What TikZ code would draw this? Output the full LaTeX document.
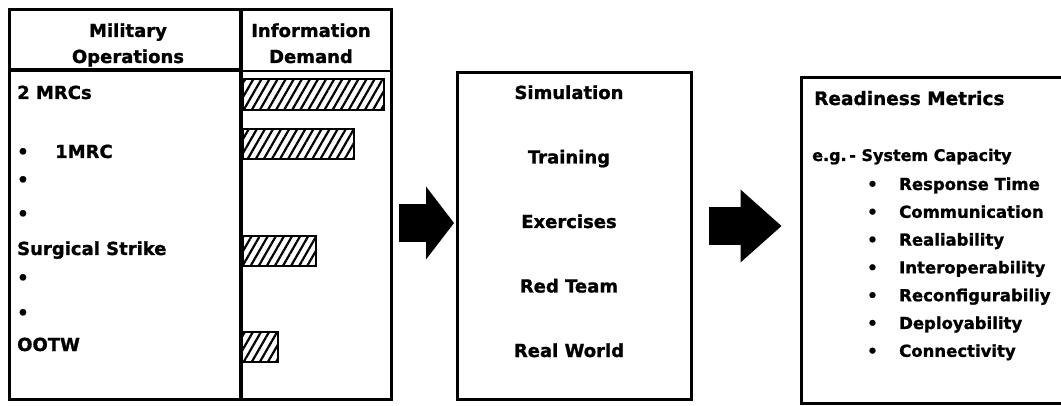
\documentclass[tikz,border=0pt]{standalone}
\usepackage{fontspec}
\setmainfont{DejaVu Sans}[BoldFeatures={FakeBold=1.2}]
\usetikzlibrary{arrows.meta,patterns.meta}

\begin{document}
\begin{tikzpicture}[x=1pt, y=-1pt,
    panel/.style={draw, line width=3pt, inner sep=0pt},
    head/.style={font=\fontsize{18}{26}\selectfont\bfseries, align=center, anchor=base, inner sep=0pt},
    item/.style={font=\fontsize{18}{22}\selectfont\bfseries, anchor=base west, inner sep=0pt},
    metric/.style={font=\fontsize{16.5}{20}\selectfont\bfseries, anchor=base west, inner sep=0pt},
    bar/.style={draw, line width=2.5pt, pattern={Lines[angle=60,distance=7pt,line width=2.2pt]}},
    bigarrow/.style={line width=38pt, -{Triangle[length=#1, width=73pt, line width=0pt]}}
]

\useasboundingbox (0,0) rectangle (1061,406);
\clip (0,0) rectangle (1061,406);

% Three panels
\node[panel, minimum width=382pt, minimum height=389pt] (ops) at (200,204.5) {};
\node[panel, minimum width=234pt, minimum height=326pt] (sim) at (574,236) {};
\node[panel, minimum width=274pt, minimum height=325pt] (ready) at (938,240.5) {};

% Table rulings
\draw[line width=3.5pt] (241,10) -- (241,399);
\draw[line width=3.5pt] (9,70) -- (241,70);
\draw[line width=2pt] (241,71) -- (391,71);

% Table headings
\node[head] (milhdr) at (128,63) {Military\\Operations};
\node[head] (infohdr) at (311,63) {Information\\Demand};

% Operations
\node[item] (mrc2) at (17,99) {2 MRCs};
\node[item] (mrc1) at (17,158) {\makebox[38pt][l]{•}1MRC};
\node[item] (dot1) at (17,186) {•};
\node[item] (dot2) at (17,220) {•};
\node[item] (strike) at (17,255) {Surgical Strike};
\node[item] (dot3) at (17,284) {•};
\node[item] (dot4) at (17,319) {•};
\node[item] (ootw) at (17,351) {OOTW};

% Demand bars
\draw[bar] (243,79) rectangle (384,110);
\draw[bar] (243,129) rectangle (354,159);
\draw[bar] (243,236) rectangle (316,266);
\draw[bar] (242,332) rectangle (278,362);

% Middle panel
\foreach \lbl [count=\i] in {Simulation, Training, Exercises, Red Team, Real World}
    \node[head] (s\i) at (569,{99+64.5*(\i-1)}) {\lbl};

% Right panel
\node[item, font=\fontsize{18.5}{22}\selectfont\bfseries] (rmhdr) at (814,105) {Readiness Metrics};
\node[metric, font=\fontsize{16}{20}\selectfont\bfseries] (eg) at (812,161) {e.g.\,- System Capacity};
\foreach \lbl [count=\i] in {Response Time, Communication, Realiability, Interoperability,
        Reconfigurabiliy, Deployability, Connectivity} {
    \node[metric] (b\i) at (867,{190+27.8*(\i-1)}) {•};
    \node[metric] (m\i) at (899,{190+27.8*(\i-1)}) {\lbl};
}

% Block arrows
\coordinate (row1) at (0,223);
\coordinate (row2) at (0,226);
\draw[bigarrow=28pt, shorten <=6pt, shorten >=1.5pt] (ops.east |- row1) -- (sim.west |- row1);
\draw[bigarrow=41pt, shorten <=16pt, shorten >=18pt] (sim.east |- row2) -- (ready.west |- row2);

\end{tikzpicture}
\end{document}
